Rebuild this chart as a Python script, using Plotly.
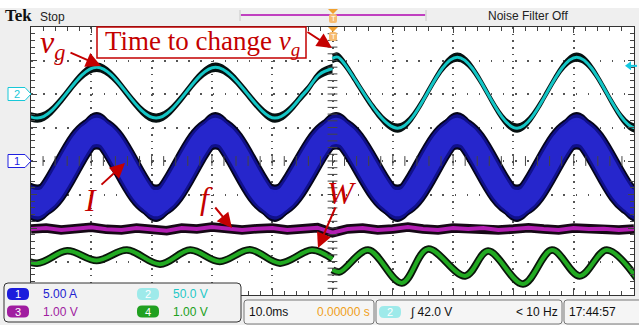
import plotly.graph_objects as go

# ------------------ data ------------------
# time in ms relative to the trigger (10.0 ms/div, 10 divisions)
T_RANGE = [-50, 50]

# Ch2 : grid voltage v_g (V) - before / after the change instant
vg_pre_t = [-58.8, -48.95, -39.1, -29.25, -19.4, -9.55, -4.6, -2.2, 0.0]
vg_pre_v = [40, -36, 40, -36, 40, -36, 2, 29, 38]
vg_post_t = [0.0, 0.9, 10.8, 20.7, 30.6, 40.5, 50.4, 60.3]
vg_post_v = [53, 55, -51, 55, -51, 55, -51, 55]

# Ch1 : current I (A) - middle of the switching band, and band half width
i_t = [-58.8, -48.95, -39.1, -29.25, -19.4, -9.55, 0.6, 10.8, 20.7, 30.6, 40.5, 50.4, 60.3]
i_v = [4.5, -6.3, 4.5, -6.3, 4.5, -6.3, 4.5, -6.3, 4.5, -6.3, 4.5, -6.3, 4.5]
i_half_band = 2.8

# Ch3 : f (V)
f_t = [-50.0, -47.5, -45.0, -42.5, -40.0, -37.5, -35.0, -32.5, -30.0, -27.5,
       -25.0, -22.5, -20.0, -17.5, -15.0, -12.5, -10.0, -7.5, -5.0, -2.5,
       0.0, 2.5, 5.0, 7.5, 10.0, 12.5, 15.0, 17.5, 20.0, 22.5,
       25.0, 27.5, 30.0, 32.5, 35.0, 37.5, 40.0, 42.5, 45.0, 47.5, 50.0]
f_v = [-0.03, 0.00, -0.06, -0.02, 0.02, -0.04, -0.06, 0.00, -0.03, -0.08,
       0.00, -0.03, 0.03, -0.03, -0.06, -0.02, 0.00, -0.06, -0.03, 0.01,
       -0.14, -0.03, 0.00, -0.06, -0.03, 0.03, -0.03, -0.06, 0.00, -0.03,
       0.00, -0.06, -0.03, 0.01, -0.03, -0.06, 0.00, -0.03, -0.02, -0.06, -0.03]

# Ch4 : W (V)
w_pre_t = [-54.0, -49.0, -44.0, -39.1, -34.1, -28.6, -23.6, -18.7, -13.7, -8.7, -3.4, 0.0]
w_pre_v = [0.31, -0.05, 0.32, 0.03, 0.34, -0.08, 0.34, 0.0, 0.35, -0.05, 0.34, 0.08]
w_post_t = [0.0, 1.2, 5.9, 11.5, 15.8, 22.0, 25.8, 31.6, 36.4, 41.0, 45.5, 51.0]
w_post_v = [-0.25, -0.31, 0.34, -0.64, 0.37, -0.43, 0.31, -0.67, 0.34, -0.43, 0.34, -0.64]

# channel settings (scale per div, position in div)
CH1_SCALE, CH1_POS = 5.0, 0.0
CH2_SCALE, CH2_POS = 50.0, 2.0
CH3_SCALE, CH3_POS = 1.0, -2.0
CH4_SCALE, CH4_POS = 1.0, -3.0
TRIG_LEVEL = 42.0

# ------------------ figure ------------------
W, H = 639, 325
L, R, T, B = 31, 5, 27, 30
PW, PH = W - L - R, H - T - B
DIV_PX = PH / 8.0


def PX(x):
    return (x - L) / PW


def PY(y):
    return (T + PH - y) / PH


def div(vals, scale, pos):
    return [pos + v / scale for v in vals]


fig = go.Figure()


def band(t, c, half, color):
    lo = [v - half for v in c]
    hi = [v + half for v in c]
    fig.add_trace(go.Scatter(x=t, y=lo, mode='lines', hoverinfo='skip',
                             line=dict(width=0, shape='spline', smoothing=1, color=color)))
    fig.add_trace(go.Scatter(x=t, y=hi, mode='lines', hoverinfo='skip', fill='tonexty',
                             fillcolor=color,
                             line=dict(width=0, shape='spline', smoothing=1, color=color)))


def line(t, y, color, width, shape='spline'):
    fig.add_trace(go.Scatter(x=t, y=y, mode='lines', hoverinfo='skip',
                             line=dict(width=width, shape=shape, smoothing=1, color=color)))


# Ch4 W (green)
for tt, vv in ((w_pre_t, w_pre_v), (w_post_t, w_post_v)):
    yy = div(vv, CH4_SCALE, CH4_POS)
    line(tt, yy, '#0a160a', 7.5)
    line(tt, yy, '#22aa22', 4)

# Ch3 f (magenta)
fy = div(f_v, CH3_SCALE, CH3_POS)
line(f_t, fy, '#150815', 9.5, 'linear')
line(f_t, fy, '#b21eb2', 4, 'linear')

# Ch1 I (switching band: vertical band + wide trace)
iy = div(i_v, CH1_SCALE, CH1_POS)
hb = i_half_band / CH1_SCALE
hb_px = hb * DIV_PX
for k, col in ((1.0, '#05051a'), (0.88, '#10108a'), (0.7, '#2626cc')):
    band(i_t, iy, hb * k, col)
    line(i_t, iy, col, 2 * hb_px * k * 0.78)

# Ch2 v_g (cyan)
for tt, vv in ((vg_pre_t, vg_pre_v), (vg_post_t, vg_post_v)):
    yy = div(vv, CH2_SCALE, CH2_POS)
    band(tt, yy, 0.14, '#061010')
    line(tt, yy, '#14c6c6', 3)

# centre cross ticks (graticule)
fig.add_trace(go.Scatter(x=[v for v in range(-48, 49, 2)], y=[0] * 49, mode='markers', hoverinfo='skip',
                         marker=dict(symbol='line-ns', size=7, line=dict(width=1, color='#444'))))
fig.add_trace(go.Scatter(x=[0] * 39, y=[k / 5 for k in range(-19, 20)], mode='markers', hoverinfo='skip',
                         marker=dict(symbol='line-ew', size=7, line=dict(width=1, color='#444'))))

fig.update_layout(
    width=W, height=H, margin=dict(l=L, r=R, t=T, b=B),
    paper_bgcolor='#efefef', plot_bgcolor='white', showlegend=False,
    xaxis=dict(range=T_RANGE, dtick=10, tick0=0, showticklabels=False, zeroline=False,
               showgrid=True, gridcolor='#555', gridwidth=1.5, griddash='1.5px,5.2px',
               ticks='inside', ticklen=6, tickcolor='#444', showline=True, linecolor='#333',
               linewidth=1, mirror='allticks',
               minor=dict(dtick=2, ticks='inside', ticklen=4, tickcolor='#444', showgrid=False)),
    yaxis=dict(range=[-4, 4], dtick=1, tick0=0, showticklabels=False, zeroline=False,
               showgrid=True, gridcolor='#555', gridwidth=1.5, griddash='1.5px,10.6px',
               ticks='inside', ticklen=6, tickcolor='#444', showline=True, linecolor='#333',
               linewidth=1, mirror='allticks',
               minor=dict(dtick=0.2, ticks='inside', ticklen=4, tickcolor='#444', showgrid=False)),
)

shapes = []
ann = []
RED = '#c40000'
UI = 'Liberation Sans, Arial, sans-serif'


def rect(x0, y0, x1, y1, fill, lc=None, lw=0):
    shapes.append(dict(type='rect', xref='paper', yref='paper', x0=PX(x0), x1=PX(x1),
                       y0=PY(y1), y1=PY(y0), fillcolor=fill,
                       line=dict(width=lw, color=lc or fill), layer='above'))


def rrect(x0, y0, x1, y1, r, fill, lc=None, lw=0):
    rx, ry = r / PW, r / PH
    a0, a1, b0, b1 = PX(x0), PX(x1), PY(y1), PY(y0)
    p = (f"M{a0+rx},{b0} L{a1-rx},{b0} Q{a1},{b0} {a1},{b0+ry} L{a1},{b1-ry} "
         f"Q{a1},{b1} {a1-rx},{b1} L{a0+rx},{b1} Q{a0},{b1} {a0},{b1-ry} "
         f"L{a0},{b0+ry} Q{a0},{b0} {a0+rx},{b0} Z")
    shapes.append(dict(type='path', xref='paper', yref='paper', path=p, fillcolor=fill,
                       line=dict(width=lw, color=lc or fill), layer='above'))


def poly(pts, fill, lc=None, lw=0):
    p = 'M' + ' L'.join(f"{PX(x)},{PY(y)}" for x, y in pts) + ' Z'
    shapes.append(dict(type='path', xref='paper', yref='paper', path=p, fillcolor=fill,
                       line=dict(width=lw, color=lc or fill), layer='above'))


def seg(x0, y0, x1, y1, color, w):
    shapes.append(dict(type='line', xref='paper', yref='paper', x0=PX(x0), x1=PX(x1),
                       y0=PY(y0), y1=PY(y1), line=dict(width=w, color=color), layer='above'))


def text(x, y, s, size, color, xa='left', family=UI, ya='middle'):
    ann.append(dict(x=PX(x), y=PY(y), xref='paper', yref='paper', text=s, showarrow=False,
                    xanchor=xa, yanchor=ya, font=dict(size=size, color=color, family=family)))


def arrow(x0, y0, x1, y1):
    ann.append(dict(x=PX(x1), y=PY(y1), xref='paper', yref='paper', text='', showarrow=True,
                    ax=x0 - x1, ay=y0 - y1, arrowhead=2, arrowsize=1.5, arrowwidth=2,
                    arrowcolor=RED, standoff=0, startstandoff=0))


# top strip
rect(0, 0, 639, 8, 'white')
text(3, 16, '<b>Tek</b>', 17, '#111', family='Liberation Serif, serif')
text(38, 17, 'Stop', 12, '#222')
text(528, 16, 'Noise Filter Off', 12, '#222', xa='center')
# record bar
seg(240, 15, 426, 15, '#c8c8c8', 1)
seg(240, 10, 240, 21, '#c8c8c8', 1)
seg(426, 10, 426, 21, '#c8c8c8', 1)
seg(241, 15, 425, 15, '#c040c0', 2)
# trigger position markers
for y0 in (9, 27):
    poly([(328, y0), (338, y0), (333, y0 + 5)], '#f0a030')
    rrect(329, y0 + 5, 337, y0 + 14, 2, '#f6bb70')
    text(333, y0 + 9.5, 'T', 8, 'white', xa='center')
# trigger level arrow (Ch2, right edge)
ty = 161 - (CH2_POS + TRIG_LEVEL / CH2_SCALE) * DIV_PX
poly([(625, ty), (631, ty - 4.5), (631, ty + 4.5)], '#14c8e0')
seg(630, ty, 637, ty, '#14c8e0', 2)
# channel ground markers
for pos, lab, col in ((CH2_POS, '2', '#18c8d8'), (CH1_POS, '1', '#2020e0')):
    yc = 161 - pos * DIV_PX
    poly([(8, yc - 6.5), (25, yc - 6.5), (31, yc), (25, yc + 6.5), (8, yc + 6.5)], 'white', col, 1)
    text(16.5, yc, lab, 11, col, xa='center')

# red annotations
rect(97, 27, 306, 58, 'white', RED, 1.5)
text(103, 43, 'Time to change <i>v<sub>g</sub></i>', 27, RED, family='Liberation Serif, serif')
text(38, 45, '<i>v<sub>g</sub></i>', 32, RED, family='Liberation Serif, serif')
text(82, 200, '<i>I</i>', 32, RED, family='Liberation Serif, serif')
text(198, 198, '<i>f</i>', 32, RED, family='Liberation Serif, serif')
text(325, 193, '<i>W</i>', 32, RED, family='Liberation Serif, serif')
arrow(69, 52, 101, 66)
arrow(306, 31, 332, 48)
arrow(100, 186, 125, 163)
arrow(214, 206, 232, 228)
arrow(336, 206, 318, 248)

# bottom legend box
rrect(4, 283, 241, 322, 4, '#f2f2f2', '#333', 1)
pills = [(7, 294, '1', '#1c1cdc', '5.00 A', '#2222d0'),
         (137, 294, '2', '#9eeaea', '50.0 V', '#22c8c8'),
         (7, 311.5, '3', '#a01ca0', '1.00 V', '#a01ca0'),
         (137, 311.5, '4', '#20a020', '1.00 V', '#20a020')]
for x, y, n, pc, s, tc in pills:
    rrect(x, y - 6, x + 22, y + 6, 5, pc)
    text(x + 11, y, n, 11, 'white', xa='center')
    text(x + 34, y, s, 12, tc)

# timebase / trigger / clock boxes
rrect(244, 300, 374, 324, 3, '#f5f5f5', '#777', 1)
rrect(376, 300, 562, 324, 3, '#f5f5f5', '#777', 1)
rrect(564, 300, 645, 324, 3, '#f5f5f5', '#777', 1)
text(247, 312, '10.0ms', 12, '#111')
text(372, 312, '0.00000 s', 12, '#f0a020', xa='right')
rrect(379, 306, 401, 318, 5, '#9eeaea')
text(390, 312, '2', 11, 'white', xa='center')
text(408, 312, '\u222b 42.0 V', 12, '#111')
text(560, 312, '< 10 Hz', 12, '#111', xa='right')
text(567, 312, '17:44:57', 12, '#111')

fig.update_layout(shapes=shapes, annotations=ann)
fig.write_html('out.html')
